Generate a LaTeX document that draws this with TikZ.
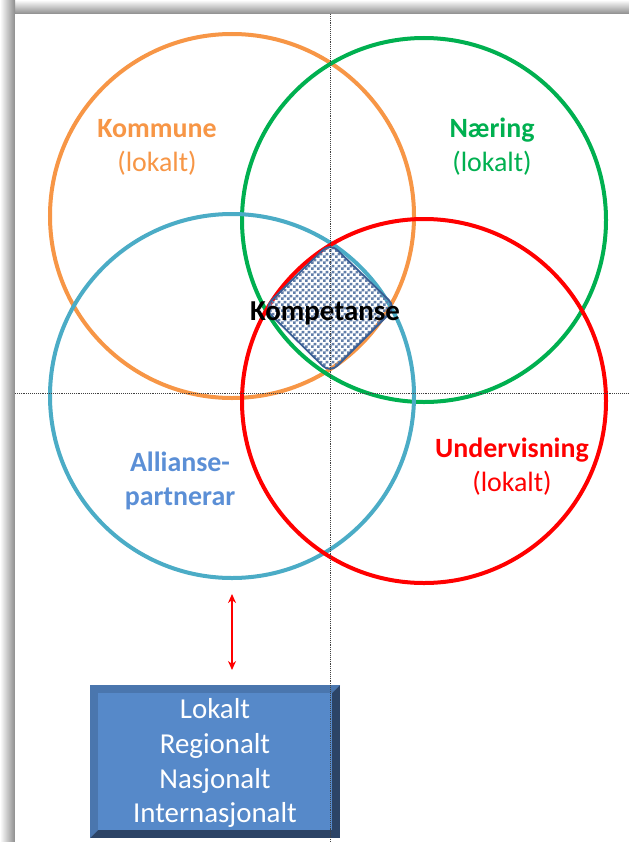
\documentclass[tikz,border=0pt]{standalone}
\usepackage{fontspec}
\setmainfont{Carlito}
\usetikzlibrary{patterns,arrows.meta}
\definecolor{kommcol}{HTML}{F79646}
\definecolor{naercol}{HTML}{00B050}
\definecolor{allicol}{HTML}{4BACC6}
\definecolor{allitext}{HTML}{5B8FD6}
\definecolor{undcol}{HTML}{FF0000}
\definecolor{boxcol}{HTML}{5689C9}
\definecolor{boxdark}{HTML}{2C4466}
\definecolor{boxlight}{HTML}{4A76AE}
\definecolor{diacol}{HTML}{3A5E94}
\pgfdeclarepatternformonly{finechecks}{\pgfpointorigin}{\pgfpoint{5.6bp}{5.6bp}}{\pgfpoint{5.6bp}{5.6bp}}{
  \pgfpathrectangle{\pgfpointorigin}{\pgfpoint{2.8bp}{2.8bp}}
  \pgfpathrectangle{\pgfpoint{2.8bp}{2.8bp}}{\pgfpoint{2.8bp}{2.8bp}}
  \pgfusepath{fill}
}
\tikzset{
  ring/.style={circle, draw, line width=4bp, minimum size=364bp, inner sep=0pt},
  lbl/.style={align=center, font=\fontsize{28}{34}\selectfont},
  guide/.style={densely dotted, line width=0.9bp, black!75}
}
\begin{document}
\begin{tikzpicture}[x=1bp, y=-1bp]
    \useasboundingbox (0,0) rectangle (629,842);
    % page with shadow
    \shade[top color=white, bottom color=black!45] (0,0) rectangle (629,14);
    \shade[left color=white, right color=black!45] (0,0) rectangle (15,842);
    \fill[white] (15,14) rectangle (629,842);
    % circles
    \node[ring, draw=kommcol] (komm) at (232,216) {};
    \node[ring, draw=naercol] (naer) at (424,220) {};
    \node[ring, draw=allicol] (alli) at (232,396) {};
    \node[ring, draw=undcol] (und) at (424,401) {};
    % centre
    \draw[diacol, line width=1.8bp, rounded corners=10bp, pattern=finechecks, pattern color=diacol!80]
        (297,275) -- (330,243) -- (396,307) -- (330,373) -- (264,308) -- cycle;
    \node[font=\fontsize{29}{34}\selectfont\bfseries] (komp) at (325,313) {Kompetanse};
    % labels
    \node[lbl, text=kommcol] (kommlbl) at (157,147) {\textbf{Kommune}\\(lokalt)};
    \node[lbl, text=naercol] (naerlbl) at (492,147) {\textbf{Næring}\\(lokalt)};
    \node[lbl, text=allitext] (allilbl) at (180,481) {\textbf{Allianse-}\\\textbf{partnerar}};
    \node[lbl, text=undcol] (undlbl) at (512,467) {\textbf{Undervisning}\\(lokalt)};
    % box
    \fill[boxdark] (90,685) rectangle (340,838);
    \fill[boxlight] (90,685) -- (340,685) -- (332,693) -- (98,693) -- (98,830) -- (90,838) -- cycle;
    \fill[boxcol] (98,693) rectangle (332,830);
    \node[align=center, text=white, font=\fontsize{29}{35}\selectfont] (niva) at (215,763)
        {Lokalt\\Regionalt\\Nasjonalt\\Internasjonalt};
    % arrow
    \coordinate (a1) at (232,594);
    \coordinate (a2) at (232,670);
    \draw[undcol, line width=2bp, {Stealth[length=9bp,width=8bp]}-{Stealth[length=9bp,width=8bp]}] (a1) -- (a2);
    % guides
    \draw[guide] (330,14) -- (330,842);
    \draw[guide] (15,393) -- (629,393);
\end{tikzpicture}
\end{document}
